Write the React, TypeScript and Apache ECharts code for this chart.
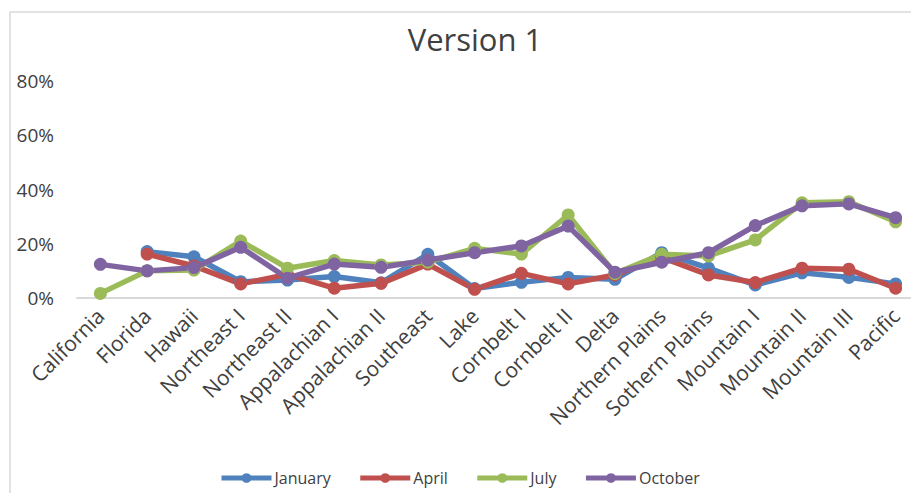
import React, { useEffect, useRef } from "react";
import * as echarts from "echarts";

const categories = [
  "California", "Florida", "Hawaii", "Northeast I", "Northeast II",
  "Appalachian I", "Appalachian II", "Southeast", "Lake", "Cornbelt I",
  "Cornbelt II", "Delta", "Northern Plains", "Sothern Plains", "Mountain I",
  "Mountain II", "Mountain III", "Pacific",
];

const january = [null, 0.171, 0.152, 0.06, 0.066, 0.079, 0.056, 0.161, 0.035, 0.058, 0.076, 0.069, 0.167, 0.11, 0.048, 0.093, 0.076, 0.052];
const april = [null, 0.162, 0.118, 0.052, 0.087, 0.036, 0.054, 0.125, 0.032, 0.091, 0.052, 0.085, 0.15, 0.085, 0.057, 0.11, 0.106, 0.036];
const july = [0.017, 0.1, 0.103, 0.21, 0.11, 0.138, 0.122, 0.132, 0.183, 0.162, 0.306, 0.09, 0.161, 0.155, 0.214, 0.351, 0.355, 0.281];
const october = [0.124, 0.1, 0.112, 0.187, 0.073, 0.125, 0.113, 0.14, 0.167, 0.192, 0.265, 0.095, 0.132, 0.167, 0.267, 0.34, 0.347, 0.296];

const yTicks = [0, 0.2, 0.4, 0.6, 0.8];

const seriesDefs = [
  { name: "January", data: january, color: "#4F81BD" },
  { name: "April", data: april, color: "#C0504D" },
  { name: "July", data: july, color: "#9BBB59" },
  { name: "October", data: october, color: "#8064A2" },
];

const FONT = "'Open Sans', sans-serif";

export default function App() {
  const ref = useRef<HTMLDivElement>(null);
  useEffect(() => {
    if (!ref.current) return;
    const chart = echarts.init(ref.current, null, { renderer: "svg" });
    chart.setOption({
      animation: false,
      backgroundColor: "#ffffff",
      title: {
        text: "Version 1",
        left: 462,
        top: 10,
        textAlign: "center",
        textStyle: { fontFamily: FONT, fontSize: 31, fontWeight: "normal", color: "#404040" },
      },
      graphic: [
        {
          type: "rect",
          shape: { x: 2, y: 4, width: 1000, height: 1000 },
          style: { fill: "none", stroke: "#D9D9D9", lineWidth: 1.5 },
          silent: true,
        },
      ],
      legend: {
        left: 206,
        top: 457,
        itemWidth: 50,
        itemHeight: 12,
        itemGap: 27,
        lineStyle: { width: 5 },
        textStyle: { fontFamily: FONT, fontSize: 16, color: "#404040", padding: [0, 0, 0, -2] },
        data: seriesDefs.map((s) => s.name),
      },
      grid: { left: 69, right: 0, top: 73, bottom: 195, containLabel: false },
      xAxis: {
        type: "category",
        data: categories,
        boundaryGap: true,
        axisLine: { lineStyle: { color: "#D9D9D9", width: 2 } },
        axisTick: { show: false },
        axisLabel: {
          rotate: 45,
          interval: 0,
          margin: 14,
          fontFamily: FONT,
          fontSize: 21,
          color: "#404040",
        },
      },
      yAxis: {
        type: "value",
        min: 0,
        max: 0.8,
        interval: 0.2,
        axisLine: { show: false },
        axisTick: { show: false },
        splitLine: { show: false },
        axisLabel: {
          margin: 23,
          fontFamily: FONT,
          fontSize: 19,
          color: "#404040",
          formatter: (v: number) => {
            const t = yTicks.find((x) => Math.abs(x - v) < 1e-9);
            return t === undefined ? "" : Math.round(t * 100) + "%";
          },
        },
      },
      series: seriesDefs.map((s) => ({
        name: s.name,
        type: "line",
        data: s.data,
        color: s.color,
        symbol: "circle",
        symbolSize: 13,
        lineStyle: { width: 5.5, color: s.color },
        itemStyle: { color: s.color },
        connectNulls: false,
      })),
    });
    return () => chart.dispose();
  }, []);
  return <div ref={ref} style={{ width: 911, height: 485 }} />;
}
